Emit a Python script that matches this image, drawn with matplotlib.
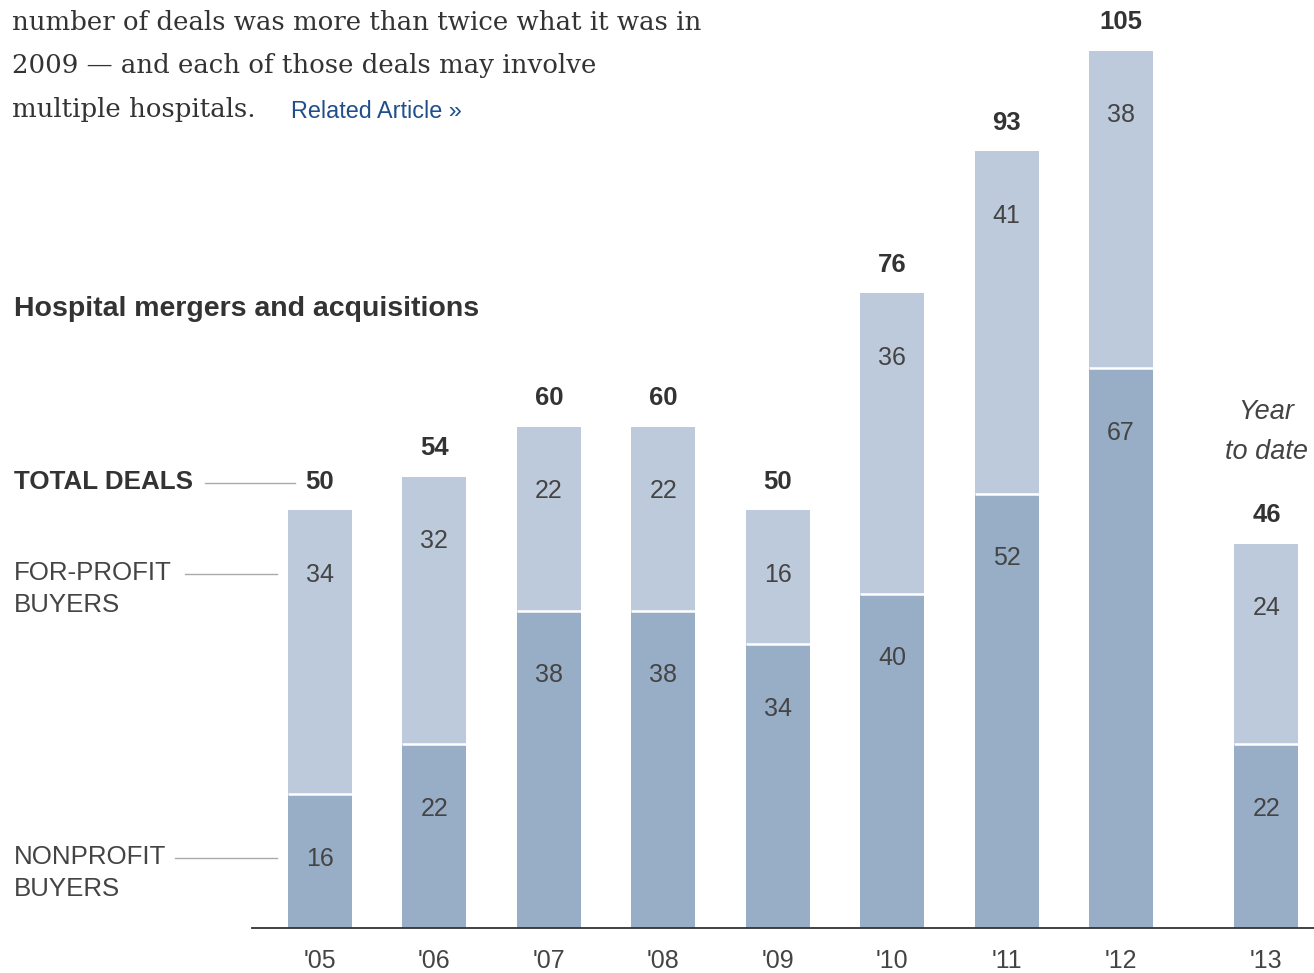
import matplotlib
matplotlib.use("Agg")
import matplotlib.pyplot as plt

years = ["'05", "'06", "'07", "'08", "'09", "'10", "'11", "'12", "'13"]
positions = [0, 1, 2, 3, 4, 5, 6, 7, 8.27]
nonprofit = [16, 22, 38, 38, 34, 40, 52, 67, 22]
forprofit = [34, 32, 22, 22, 16, 36, 41, 38, 24]
totals = [50, 54, 60, 60, 50, 76, 93, 105, 46]

C_NP = "#98aec6"
C_FP = "#bdcadb"
TXT = "#444444"
W, H = 1314, 973

fig = plt.figure(figsize=(W / 100, H / 100), dpi=100)
fig.patch.set_facecolor("white")
ax = fig.add_axes([252 / W, 1 - 928 / H, 1062 / W, 928 / H])
ax.set_xlim(-0.594, 8.686)
ax.set_ylim(0, 111.07)
for s in ["top", "right", "left"]:
    ax.spines[s].set_visible(False)
ax.spines["bottom"].set_color("#333333")
ax.spines["bottom"].set_linewidth(1.3)
ax.set_yticks([])
ax.set_xticks(positions)
ax.set_xticklabels(years, fontsize=18, color=TXT, family="Liberation Sans")
ax.tick_params(axis="x", length=0, pad=15)

bw = 0.56
ax.bar(positions, nonprofit, width=bw, color=C_NP, linewidth=0)
ax.bar(positions, forprofit, bottom=nonprofit, width=bw, color=C_FP, linewidth=0)
ax.hlines(nonprofit, [p - bw / 2 for p in positions], [p + bw / 2 for p in positions],
          color="white", linewidth=1.8)

for p, n, f, t in zip(positions, nonprofit, forprofit, totals):
    ax.annotate(str(n), (p, n), xytext=(0, -46.5), textcoords="offset points",
                ha="center", va="center", fontsize=18, color=TXT, family="Liberation Sans")
    ax.annotate(str(f), (p, n + f), xytext=(0, -46.5), textcoords="offset points",
                ha="center", va="center", fontsize=18, color=TXT, family="Liberation Sans")
    ax.annotate(str(t), (p, t), xytext=(0, 20.5), textcoords="offset points",
                ha="center", va="center", fontsize=18.5, color="#333333",
                fontweight="bold", family="Liberation Sans")

ax.annotate("Year", (positions[-1], totals[-1]), xytext=(0, 95), textcoords="offset points",
            ha="center", va="center", fontsize=19.5, color=TXT, style="italic",
            family="Liberation Sans")
ax.annotate("to date", (positions[-1], totals[-1]), xytext=(0, 66), textcoords="offset points",
            ha="center", va="center", fontsize=19.5, color=TXT, style="italic",
            family="Liberation Sans")


def px(x, y):
    return x / W, 1 - y / H


body = ["number of deals was more than twice what it was in",
        "2009 \u2014 and each of those deals may involve",
        "multiple hospitals."]
for i, line in enumerate(body):
    fig.text(*px(12, 22 + 44 * i), line, fontsize=18.7, family="DejaVu Serif",
             color="#333333", va="center", ha="left")
fig.text(*px(291, 111), "Related Article \u00bb", fontsize=16.8, family="Liberation Sans",
         color="#1f4f8a", va="center", ha="left")

fig.text(*px(14, 309), "Hospital mergers and acquisitions", fontsize=20.5,
         fontweight="bold", family="Liberation Sans", color="#333333", va="center")
fig.text(*px(14, 482), "TOTAL DEALS", fontsize=18.7, fontweight="bold",
         family="Liberation Sans", color="#333333", va="center")
fig.text(*px(14, 573), "FOR-PROFIT", fontsize=18.6, family="Liberation Sans",
         color=TXT, va="center")
fig.text(*px(14, 605), "BUYERS", fontsize=18.6, family="Liberation Sans",
         color=TXT, va="center")
fig.text(*px(14, 857), "NONPROFIT", fontsize=18.6, family="Liberation Sans",
         color=TXT, va="center")
fig.text(*px(14, 889), "BUYERS", fontsize=18.6, family="Liberation Sans",
         color=TXT, va="center")

for x0, x1, y in [(205, 295, 483), (185, 277, 574), (175, 277, 858)]:
    fig.add_artist(plt.Line2D([x0 / W, x1 / W], [1 - y / H, 1 - y / H],
                              color="#aaaaaa", linewidth=1.0, transform=fig.transFigure))

fig.savefig("out.png", dpi=100, facecolor="white")
